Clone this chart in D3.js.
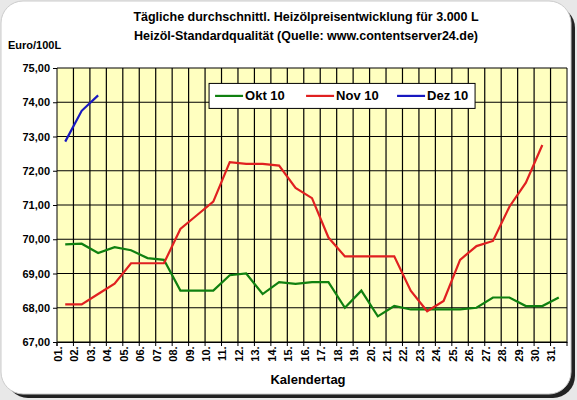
<!DOCTYPE html>
<html lang="de">
<head>
<meta charset="UTF-8">
<title>Heizöl</title>
<style>body{margin:0;background:#e8e8e8;}</style>
</head>
<body>
<div id="root"></div>
<script src="https://d3js.org/d3.v7.min.js"></script>
<script>
const days = d3.range(1, 32).map(d => (d < 10 ? "0" + d : "" + d) + ".")
const okt10 = [69.85,69.87,69.6,69.77,69.68,69.45,69.4,68.5,68.5,68.5,68.95,69.0,68.4,68.75,68.7,68.75,68.75,68.0,68.5,67.75,68.05,67.95,67.95,67.95,67.95,68.0,68.3,68.3,68.05,68.05,68.3]
const nov10 = [68.1,68.1,68.4,68.7,69.3,69.3,69.3,70.3,70.7,71.1,72.25,72.2,72.2,72.15,71.5,71.2,70.05,69.5,69.5,69.5,69.5,68.5,67.9,68.2,69.4,69.8,69.95,70.95,71.65,72.75]
const dez10 = [72.85,73.75,74.2]
const yTicks = d3.range(67, 75.01, 1)
const series = [
  {name: "Okt 10", values: okt10, color: "#108010"},
  {name: "Nov 10", values: nov10, color: "#e02020"},
  {name: "Dez 10", values: dez10, color: "#1818c0"}
]

const W = 577, H = 400
const margin = {top: 68, right: 10, bottom: 58, left: 57}
const svg = d3.select("#root").append("svg").attr("width", W).attr("height", H)
  .style("font-family", "Arial, 'Liberation Sans', sans-serif")

svg.append("rect").attr("x", 6).attr("y", 6).attr("width", W - 8).attr("height", H - 8)
  .attr("rx", 22).attr("fill", "#222")
svg.append("rect").attr("x", 1).attr("y", 1).attr("width", W - 7).attr("height", H - 7)
  .attr("rx", 22).attr("fill", "#fff").attr("stroke", "#ccc")

const width = 567 - margin.left, height = 342 - margin.top
const g = svg.append("g").attr("transform", `translate(${margin.left},${margin.top})`)

const x = d3.scaleBand().domain(days).range([0, width])
const y = d3.scaleLinear().domain([67, 75]).range([height, 0])

g.append("rect").attr("width", width).attr("height", height).attr("fill", "#ffffc0")

// grid
g.selectAll(".hg").data(yTicks).join("line")
  .attr("x1", 0).attr("x2", width).attr("y1", d => y(d)).attr("y2", d => y(d))
  .attr("stroke", "#000").attr("stroke-width", 1.2)
g.selectAll(".vg").data(days.slice(1)).join("line")
  .attr("x1", d => x(d)).attr("x2", d => x(d)).attr("y1", 0).attr("y2", height)
  .attr("stroke", "#000").attr("stroke-width", 1.2)
g.append("line").attr("x1", 0).attr("x2", 0).attr("y1", 0).attr("y2", height + 4).attr("stroke", "#000")
g.append("line").attr("x1", width).attr("x2", width).attr("y1", 0).attr("y2", height + 4).attr("stroke", "#000")

// axes
const yAxis = g.append("g").call(d3.axisLeft(y).tickValues(yTicks).tickSize(4)
  .tickFormat(d => d3.format(".2f")(d).replace(".", ",")))
yAxis.select(".domain").remove()
yAxis.selectAll("text").attr("font-size", 11).attr("font-weight", "bold")

const xAxis = g.append("g").attr("transform", `translate(0,${height})`)
  .call(d3.axisBottom(x).tickSize(0).tickSizeOuter(0))
xAxis.select(".domain").attr("stroke", "#000")
xAxis.selectAll("text").attr("font-size", 11).attr("font-weight", "bold")
  .attr("transform", "rotate(-90)").attr("text-anchor", "end")
  .attr("dx", "-0.4em").attr("dy", "-0.3em")
  .attr("x", 0).attr("y", 0)
g.selectAll(".xt").data(days).join("line")
  .attr("x1", d => x(d)).attr("x2", d => x(d)).attr("y1", height).attr("y2", height + 4).attr("stroke", "#000")

// lines
const line = d3.line().x((d, i) => x(days[i]) + x.bandwidth() / 2).y(d => y(d))
series.forEach(s => {
  g.append("path").datum(s.values).attr("d", line)
    .attr("fill", "none").attr("stroke", s.color).attr("stroke-width", 2.2)
})

// legend
const lg = g.append("g").attr("transform", `translate(${x("10.") + 4},${y(74.55)})`)
lg.append("rect").attr("width", 266).attr("height", 25).attr("fill", "#fff").attr("stroke", "#000")
series.forEach((s, i) => {
  const ox = 6 + i * 91
  lg.append("line").attr("x1", ox).attr("x2", ox + 28).attr("y1", 12.5).attr("y2", 12.5)
    .attr("stroke", s.color).attr("stroke-width", 2.2)
  lg.append("text").attr("x", ox + 30).attr("y", 17).text(s.name)
    .attr("font-size", 13).attr("font-weight", "bold")
})

// titles
svg.append("text").attr("x", 306).attr("y", 21).attr("text-anchor", "middle")
  .attr("font-size", 12.5).attr("font-weight", "bold").text("Tägliche durchschnittl. Heizölpreisentwicklung für 3.000 L")
svg.append("text").attr("x", 306).attr("y", 40).attr("text-anchor", "middle")
  .attr("font-size", 12.5).attr("font-weight", "bold").text("Heizöl-Standardqualität (Quelle: www.contentserver24.de)")
svg.append("text").attr("x", 8).attr("y", 49)
  .attr("font-size", 11).attr("font-weight", "bold").text("Euro/100L")
svg.append("text").attr("x", 308).attr("y", 384).attr("text-anchor", "middle")
  .attr("font-size", 13).attr("font-weight", "bold").text("Kalendertag")
</script>
</body>
</html>
